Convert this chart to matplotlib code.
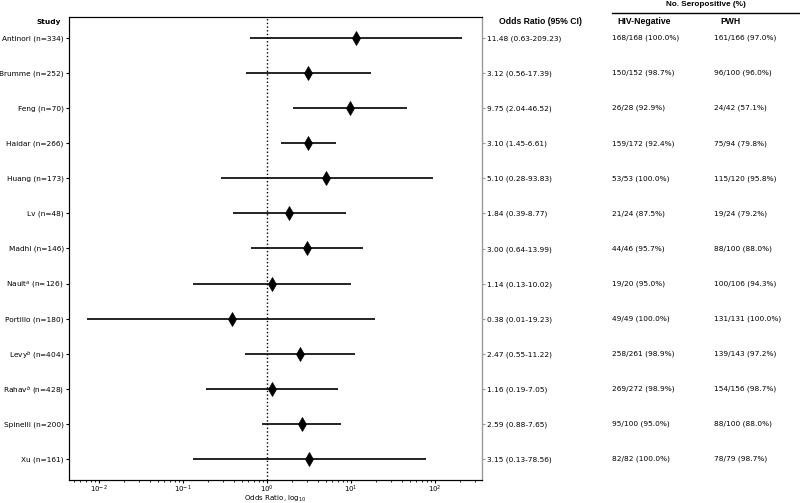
import numpy as np
import matplotlib.pyplot as plt
from matplotlib.transforms import blended_transform_factory

plt.rcParams['font.family'] = ['DejaVu Sans']

studies = ['Antinori (n=334)', 'Brumme (n=252)', 'Feng (n=70)', 'Haidar (n=266)',
           'Huang (n=173)', 'Lv (n=48)', 'Madhi (n=146)', 'Nault$^{a}$ (n=126)',
           'Portillo (n=180)', 'Levy$^{b}$ (n=404)', 'Rahav$^{b}$ (n=428)',
           'Spinelli (n=200)', 'Xu (n=161)']
odds = [11.48, 3.12, 9.75, 3.10, 5.10, 1.84, 3.00, 1.14, 0.38, 2.47, 1.16, 2.59, 3.15]
ci_low = [0.63, 0.56, 2.04, 1.45, 0.28, 0.39, 0.64, 0.13, 0.0072, 0.55, 0.19, 0.88, 0.13]
ci_high = [209.23, 17.39, 46.52, 6.61, 93.83, 8.77, 13.99, 10.02, 19.23, 11.22, 7.05, 7.65, 78.56]
or_labels = ['11.48 (0.63-209.23)', '3.12 (0.56-17.39)', '9.75 (2.04-46.52)',
             '3.10 (1.45-6.61)', '5.10 (0.28-93.83)', '1.84 (0.39-8.77)',
             '3.00 (0.64-13.99)', '1.14 (0.13-10.02)', '0.38 (0.01-19.23)',
             '2.47 (0.55-11.22)', '1.16 (0.19-7.05)', '2.59 (0.88-7.65)',
             '3.15 (0.13-78.56)']
hiv_neg = ['168/168 (100.0%)', '150/152 (98.7%)', '26/28 (92.9%)', '159/172 (92.4%)',
           '53/53 (100.0%)', '21/24 (87.5%)', '44/46 (95.7%)', '19/20 (95.0%)',
           '49/49 (100.0%)', '258/261 (98.9%)', '269/272 (98.9%)', '95/100 (95.0%)',
           '82/82 (100.0%)']
pwh = ['161/166 (97.0%)', '96/100 (96.0%)', '24/42 (57.1%)', '75/94 (79.8%)',
       '115/120 (95.8%)', '19/24 (79.2%)', '88/100 (88.0%)', '100/106 (94.3%)',
       '131/131 (100.0%)', '139/143 (97.2%)', '154/156 (98.7%)', '88/100 (88.0%)',
       '78/79 (98.7%)']

fs = 5.3
W, H = 800, 503
fig = plt.figure(figsize=(W / 100, H / 100), dpi=100)
ax = fig.add_axes([69 / W, 1 - 480 / H, (482 - 69) / W, (480 - 17) / H])

y = np.arange(len(studies))
ax.hlines(y, ci_low, ci_high, color='black', lw=1.2)
ax.plot(odds, y, 'd', color='black', ms=7, mew=0.5)
ax.axvline(1, color='black', ls=':', lw=1)

ax.set_xscale('log')
ax.set_xlim(0.0044, 363)
ax.set_ylim(len(studies) - 0.4, -0.6)
ax.set_yticks(y)
ax.set_yticklabels(studies, fontsize=fs)
ax.tick_params(axis='x', which='major', labelsize=5.0, pad=0.3, length=2.5)
ax.tick_params(axis='x', which='minor', length=1.5)
ax.tick_params(axis='y', pad=1.2, length=2.5)
ax.set_xlabel('Odds Ratio, log$_{10}$', fontsize=5.1)
ax.xaxis.set_label_coords(0.5, -14.2 / 463)

ax2 = ax.twinx()
ax2.set_ylim(ax.get_ylim())
ax2.set_yticks(y)
ax2.set_yticklabels(or_labels, fontsize=fs)
ax2.spines['right'].set_color('#999999')
ax2.tick_params(axis='y', colors='#999999', labelcolor='black', pad=1.2, length=2.5)

tr = blended_transform_factory(fig.transFigure, ax.transData)
for i in range(len(studies)):
    fig.text(612 / W, y[i], hiv_neg[i], transform=tr, fontsize=fs, va='center')
    fig.text(714 / W, y[i], pwh[i], transform=tr, fontsize=fs, va='center')

fig.text(61 / W, 1 - 22 / H, 'Study', fontsize=fs, fontweight='bold', ha='right', va='center')
hfs = 6.2
fig.text(499 / W, 1 - 21 / H, 'Odds Ratio (95% CI)', fontsize=hfs, fontweight='bold',
         family='Liberation Sans', va='center')
fig.text(617 / W, 1 - 21 / H, 'HIV-Negative', fontsize=hfs, fontweight='bold',
         family='Liberation Sans', va='center')
fig.text(720 / W, 1 - 21 / H, 'PWH', fontsize=hfs, fontweight='bold',
         family='Liberation Sans', va='center')
fig.text(706 / W, 1 - 5 / H, 'No. Seropositive (%)', fontsize=5.9, fontweight='bold',
         family='Liberation Sans', ha='center', va='center')
fig.add_artist(plt.Line2D([612 / W, 1], [1 - 12.5 / H, 1 - 12.5 / H], color='black', lw=1))

fig.savefig('out.png', dpi=100)
